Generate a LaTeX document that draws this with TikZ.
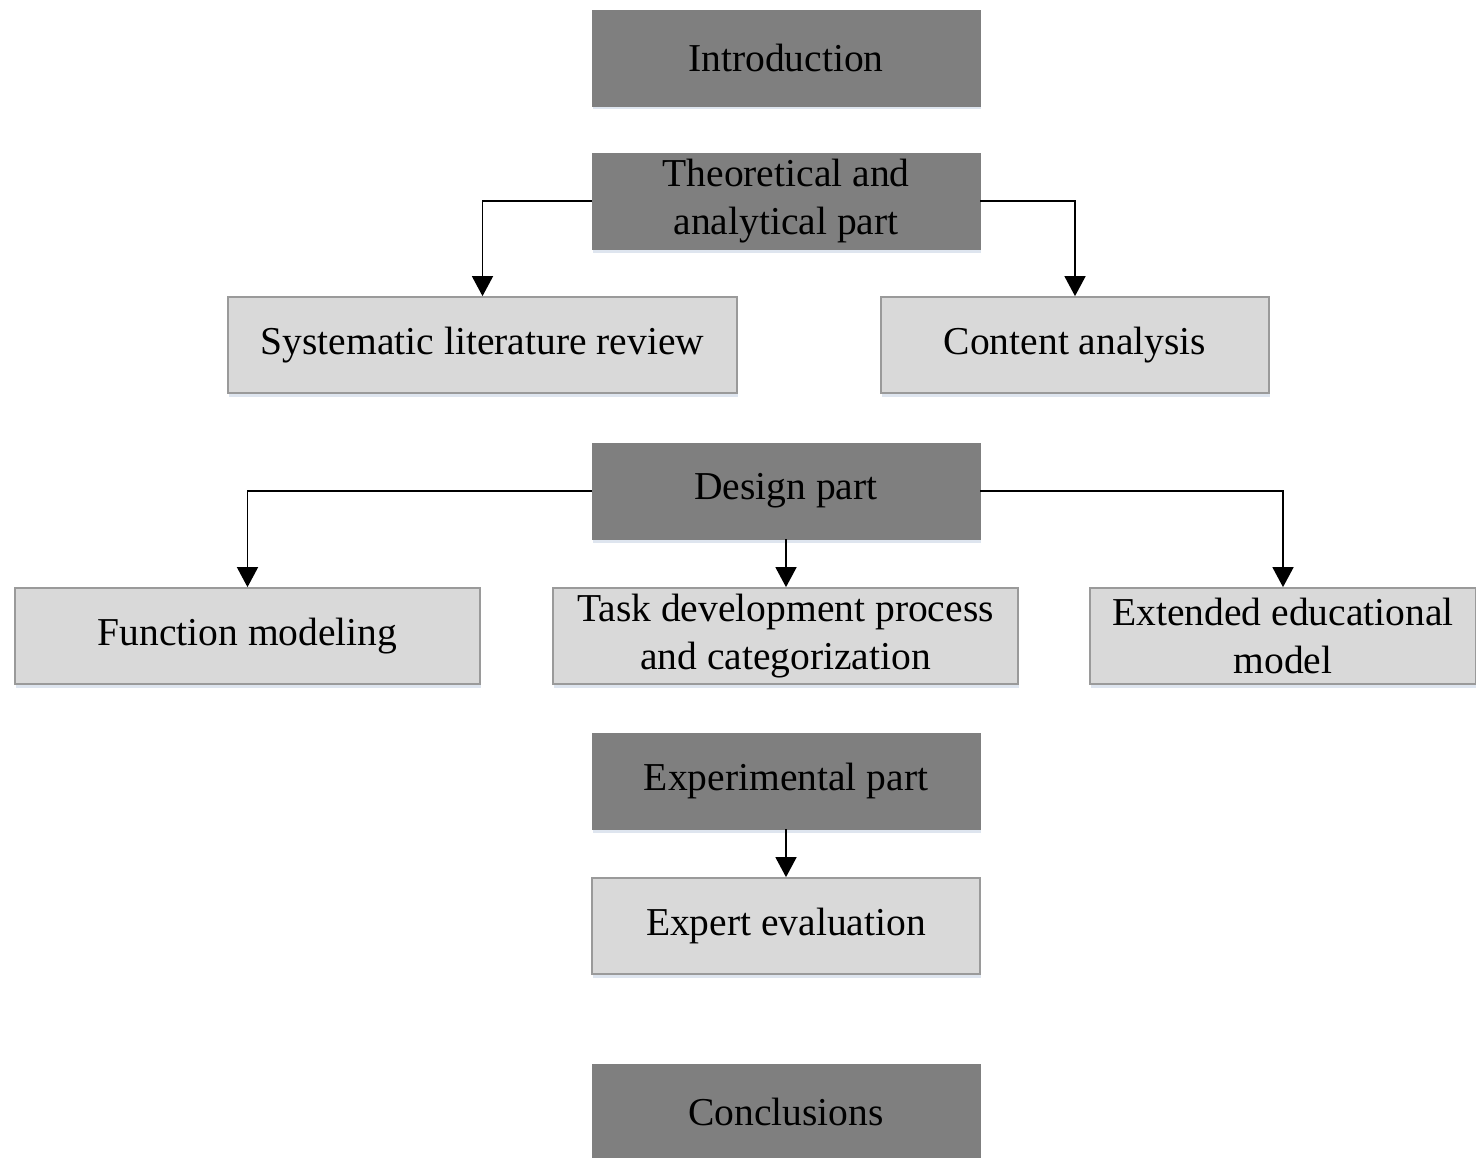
\documentclass[tikz,border=0pt]{standalone}
\usepackage{fontspec}
\setmainfont{Liberation Serif}
\usetikzlibrary{positioning,calc,arrows.meta,shadows}

\definecolor{partgray}{HTML}{7F7F7F}
\definecolor{stagegray}{HTML}{D9D9D9}
\definecolor{edgegray}{HTML}{9A9A9A}
\definecolor{shadowblue}{HTML}{C8D4E4}

\begin{document}
\begin{tikzpicture}[x=0.02cm,y=-0.02cm,
	box/.style={minimum height=1.92cm, inner sep=0pt, align=center,
		font=\fontsize{22.5}{27.5}\selectfont,
		drop shadow={shadow xshift=0.8pt, shadow yshift=-2pt, opacity=0.6, fill=shadowblue}},
	part/.style={box, fill=partgray, draw=partgray, minimum width=7.76cm},
	stage/.style={box, fill=stagegray, draw=edgegray, line width=1pt},
	link/.style={draw=black, line width=0.9pt, -{Triangle[width=0.42cm,length=0.4cm]}}]
	\useasboundingbox (0,0) rectangle (1476,1158);
	% main parts
	\node[part] (intro)  at (786,58)   {Introduction};
	\node[part] (theory) at (786,201)  {Theoretical and\\analytical part};
	\node[part] (design) at (786,491)  {Design part};
	\node[part] (exper)  at (786,781)  {Experimental part};
	\node[part] (concl)  at (786,1112) {Conclusions};
	% stages
	\node[stage, minimum width=10.18cm] (slr)    at (482.5,345) {Systematic literature review};
	\node[stage, minimum width=7.76cm]  (ca)     at (1075,345)  {Content analysis};
	\node[stage, minimum width=9.3cm]   (fm)     at (247.5,636) {Function modeling};
	\node[stage, minimum width=9.3cm]   (task)   at (785.5,636) {Task development process\\and categorization};
	\node[stage, minimum width=7.72cm]  (ext)    at (1283,636)  {Extended educational\\model};
	\node[stage, minimum width=7.76cm]  (expert) at (786,926)   {Expert evaluation};
	% connectors
	\draw[link] (theory.west) -| (slr.north);
	\draw[link] (theory.east) -| (ca.north);
	\draw[link] (design.west) -| (fm.north);
	\draw[link] (design.east) -| (ext.north);
	\draw[link] (design.south) -- (design.south |- task.north);
	\draw[link] (exper.south) -- (exper.south |- expert.north);
\end{tikzpicture}
\end{document}
